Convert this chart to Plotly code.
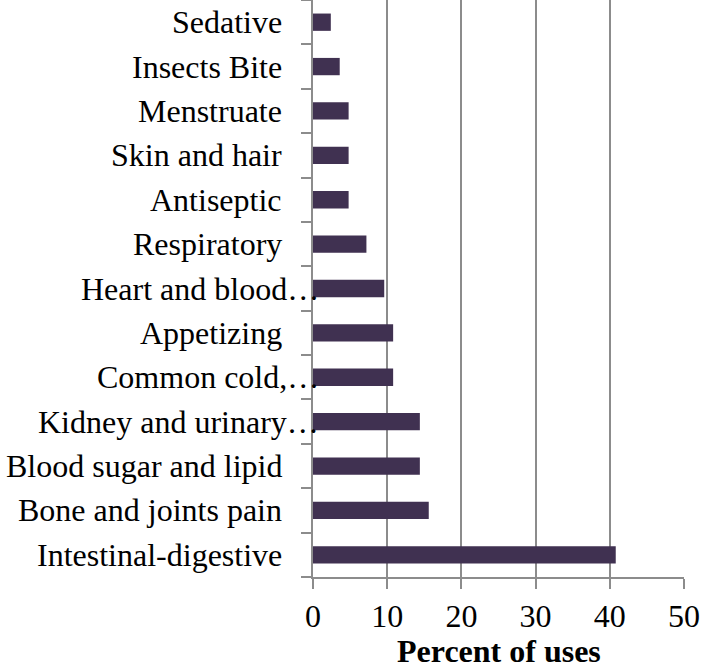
import plotly.graph_objects as go

categories = ["Intestinal-digestive", "Bone and joints pain", "Blood sugar and lipid",
              "Kidney and urinary…", "Common cold,…", "Appetizing", "Heart and blood…",
              "Respiratory", "Antiseptic", "Skin and hair", "Menstruate", "Insects Bite", "Sedative"]
values = [40.8, 15.6, 14.4, 14.4, 10.8, 10.8, 9.6, 7.2, 4.8, 4.8, 4.8, 3.6, 2.4]
x_ticks = [0, 10, 20, 30, 40, 50]
x_title = "Percent of uses"

FONT = "Liberation Serif"
GRID = "#8c8c8c"

fig = go.Figure(go.Bar(
    x=values, y=categories, orientation="h",
    marker=dict(color="#403151", line=dict(width=0)),
    width=0.39,
))

annotations = []
for c in categories:
    trunc = c.endswith("…")
    annotations.append(dict(
        x=0, y=c, xref="x", yref="y", text=c, showarrow=False,
        xanchor="right", yanchor="middle",
        xshift=(8 if trunc else -29),
        font=dict(family=FONT, size=32, color="black"),
    ))
annotations.append(dict(
    x=0.5, y=0, xref="paper", yref="paper", text="<b>" + x_title + "</b>",
    showarrow=False, xanchor="center", yanchor="top", yshift=-54,
    font=dict(family=FONT, size=32, color="black"),
))

fig.update_layout(
    width=702, height=665,
    margin=dict(l=312.5, r=18, t=0, b=87.7, pad=0),
    paper_bgcolor="white", plot_bgcolor="white",
    showlegend=False,
    annotations=annotations,
    font=dict(family=FONT, size=32, color="black"),
)
fig.update_xaxes(
    range=[0, 50], tickvals=x_ticks, showgrid=True, gridcolor=GRID, gridwidth=2,
    showline=True, linecolor=GRID, linewidth=2,
    ticks="outside", ticklen=10, tickwidth=2, tickcolor=GRID,
    tickfont=dict(family=FONT, size=32, color="black"),
    ticklabelstandoff=0,
    zeroline=False, fixedrange=True,
)
fig.update_yaxes(
    type="category", categoryorder="array", categoryarray=categories,
    showticklabels=False, tickson="boundaries",
    showline=True, linecolor=GRID, linewidth=2,
    ticks="outside", ticklen=10, tickwidth=2, tickcolor=GRID,
    showgrid=False, zeroline=False, fixedrange=True,
)

fig.write_html("out.html", config={"displayModeBar": False},
               post_script="document.body.style.margin='0';document.body.style.overflow='hidden';")
